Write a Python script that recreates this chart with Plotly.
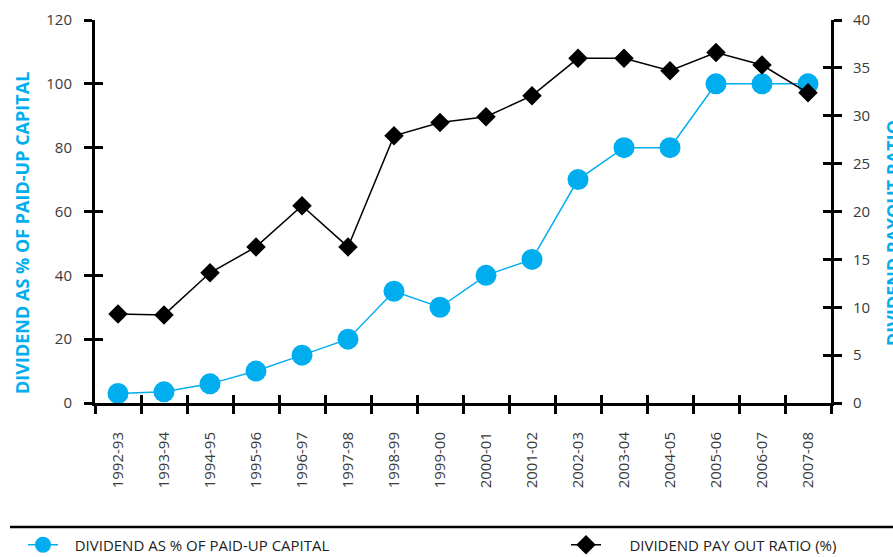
import plotly.graph_objects as go

years = ["1992-93", "1993-94", "1994-95", "1995-96", "1996-97", "1997-98",
         "1998-99", "1999-00", "2000-01", "2001-02", "2002-03", "2003-04",
         "2004-05", "2005-06", "2006-07", "2007-08"]
dividend_pct_capital = [3, 3.5, 6, 10, 15, 20, 35, 30, 40, 45, 70, 80, 80, 100, 100, 100]
payout_ratio = [9.3, 9.2, 13.6, 16.3, 20.6, 16.3, 27.9, 29.3, 29.9, 32.1,
                36.0, 36.0, 34.7, 36.6, 35.3, 32.4]

left_ticks = [0, 20, 40, 60, 80, 100, 120]
right_ticks = [0, 5, 10, 15, 20, 25, 30, 35, 40]

BLUE = "#00AEEF"
FONT = "Open Sans"
TICK_COLOR = "#3a3a3a"

W, H = 893, 557
L, R, T, B = 95, 62, 20, 154
PW, PH = W - L - R, H - T - B


def px_x(p):
    return (p - L) / PW


def px_y(p):
    return (H - B - p) / PH


fig = go.Figure()

fig.add_trace(go.Scatter(
    x=years, y=dividend_pct_capital,
    name="&nbsp;&nbsp;&nbsp;DIVIDEND AS % OF PAID-UP CAPITAL",
    mode="lines+markers", line=dict(color=BLUE, width=1.5),
    marker=dict(symbol="circle", size=21, color=BLUE),
    xaxis="x", yaxis="y", legend="legend",
))
fig.add_trace(go.Scatter(
    x=years, y=payout_ratio,
    name="&nbsp;&nbsp;&nbsp;&nbsp;&nbsp;&nbsp;DIVIDEND PAY OUT RATIO (%)",
    mode="lines+markers", line=dict(color="black", width=1.5),
    marker=dict(symbol="diamond", size=15, color="black"),
    xaxis="x", yaxis="y2", legend="legend2",
))

# empty traces so the overlay axes (inner half of each crossing tick) get drawn
for xa, ya in [("x2", "y3"), ("x2", "y4")]:
    fig.add_trace(go.Scatter(x=[], y=[], xaxis=xa, yaxis=ya, showlegend=False,
                             hoverinfo="skip"))

tick_font = dict(family=FONT, size=15, color=TICK_COLOR)
n = len(years)
boundaries = [i - 0.5 for i in range(n + 1)]

legend_font = dict(family=FONT, size=15, color="#222")

fig.update_layout(
    width=W, height=H,
    margin=dict(l=L, r=R, t=T, b=B, autoexpand=False),
    paper_bgcolor="white", plot_bgcolor="white",
    font=dict(family=FONT, color="#222"),
    xaxis=dict(
        type="category", categoryorder="array", categoryarray=years,
        range=[-0.5, n - 0.5], tickson="boundaries",
        ticks="outside", ticklen=8, tickwidth=2.5, tickcolor="black",
        showline=True, linewidth=3, linecolor="black",
        showgrid=False, zeroline=False, tickangle=-90,
        tickfont=tick_font, ticklabelstandoff=20, automargin=False,
    ),
    xaxis2=dict(
        overlaying="x", anchor="y3", type="linear", range=[-0.5, n - 0.5],
        tickvals=boundaries, ticks="inside", ticklen=8, tickwidth=2.5,
        tickcolor="black", showticklabels=False, showgrid=False,
        zeroline=False, showline=False,
    ),
    yaxis=dict(
        range=[0, 120], tickvals=left_ticks, ticks="outside", ticklen=8,
        tickwidth=2.5, tickcolor="black", showline=True, linewidth=3,
        linecolor="black", showgrid=False, zeroline=False,
        tickfont=tick_font, ticklabelstandoff=9, automargin=False,
    ),
    yaxis2=dict(
        overlaying="y", side="right", anchor="x", range=[0, 40],
        tickvals=right_ticks, ticks="outside", ticklen=8, tickwidth=2.5,
        tickcolor="black", showline=True, linewidth=3, linecolor="black",
        showgrid=False, zeroline=False, tickfont=tick_font,
        ticklabelstandoff=8, automargin=False,
    ),
    yaxis3=dict(
        overlaying="y", side="left", anchor="x2", range=[0, 120],
        tickvals=left_ticks, ticks="inside", ticklen=8, tickwidth=2.5,
        tickcolor="black", showticklabels=False, showgrid=False,
        zeroline=False, showline=False,
    ),
    yaxis4=dict(
        overlaying="y", side="right", anchor="x2", range=[0, 40],
        tickvals=right_ticks, ticks="inside", ticklen=8, tickwidth=2.5,
        tickcolor="black", showticklabels=False, showgrid=False,
        zeroline=False, showline=False,
    ),
    legend=dict(
        xref="container", yref="container",
        x=23 / W, y=(H - 545) / H, xanchor="left", yanchor="middle",
        font=legend_font, bgcolor="rgba(0,0,0,0)",
    ),
    legend2=dict(
        xref="container", yref="container",
        x=566 / W, y=(H - 545) / H, xanchor="left", yanchor="middle",
        font=legend_font, bgcolor="rgba(0,0,0,0)",
    ),
    showlegend=True,
)

fig.add_shape(type="line", xref="paper", yref="paper",
              x0=px_x(10), x1=px_x(W + 5), y0=px_y(527), y1=px_y(527),
              line=dict(color="black", width=2.5))

title_font = dict(family=FONT, size=18, color=BLUE, weight="bold")
fig.add_annotation(text="DIVIDEND AS % OF PAID-UP CAPITAL", xref="paper",
                   yref="paper", x=px_x(22), y=px_y(233), textangle=-90,
                   showarrow=False, font=title_font,
                   xanchor="center", yanchor="middle")
fig.add_annotation(text="DIVIDEND PAYOUT RATIO", xref="paper", yref="paper",
                   x=px_x(893), y=px_y(233), textangle=-90,
                   showarrow=False, font=title_font,
                   xanchor="center", yanchor="middle")

fig.write_html("out.html")
